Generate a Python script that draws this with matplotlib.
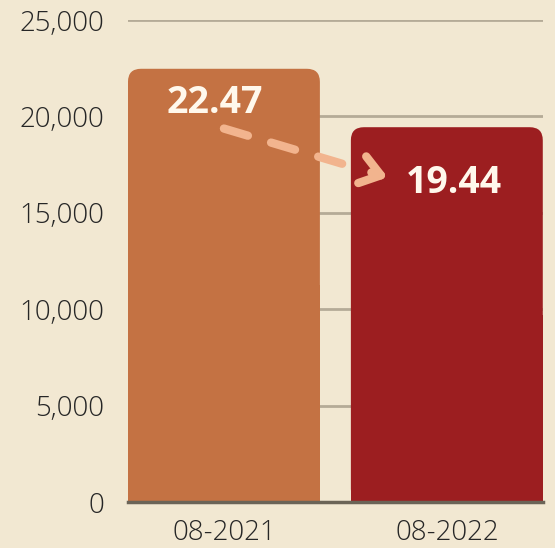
import numpy as np
import matplotlib.pyplot as plt
from matplotlib.patches import FancyBboxPatch, Rectangle

# Data
periods = ['08-2021', '08-2022']
values = [22470, 19440]
value_labels = ['22.47', '19.44']
bar_colors = ['#c47243', '#9c1e20']
yticks = [0, 5000, 10000, 15000, 20000, 25000]

bg = '#f2e8d2'
plt.rcParams['font.family'] = ['Open Sans', 'DejaVu Sans']

fig = plt.figure(figsize=(5.55, 5.48), dpi=100, facecolor=bg)
ax = fig.add_axes([0.2306, 0.0839, 0.7474, 0.8796], facecolor=bg)

x = np.arange(len(values))
width = 0.861
ax.set_xlim(-width / 2, len(values) - 1 + width / 2)
ax.set_ylim(0, 25000)

# pixel -> data conversion for rounded corners
ax_w_px = 0.7474 * 555
ax_h_px = 0.8796 * 548
x_per_px = (ax.get_xlim()[1] - ax.get_xlim()[0]) / ax_w_px
y_per_px = 25000 / ax_h_px
r = 13 * x_per_px

for xi, v, c in zip(x, values, bar_colors):
    left = xi - width / 2
    ax.add_patch(FancyBboxPatch((left, 0), width, v,
                                boxstyle=f'round,pad=0,rounding_size={r}',
                                mutation_aspect=y_per_px / x_per_px,
                                fc=c, ec='none', zorder=2))
    ax.add_patch(Rectangle((left, 0), width, v * 0.5, fc=c, ec='none', zorder=2))

# grid
for t in yticks[1:]:
    ax.axhline(t, color='#b5ab97', lw=2, zorder=1)

ax.set_yticks(yticks)
ax.set_yticklabels([f'{t:,}' for t in yticks], fontweight='light')
ax.set_xticks(x)
ax.set_xticklabels(periods, fontweight='light')
ax.tick_params(axis='y', length=0, pad=17, labelsize=20, colors='#262626')
ax.tick_params(axis='x', length=0, pad=12, labelsize=20, colors='#262626')

for s in ['top', 'right', 'left']:
    ax.spines[s].set_visible(False)
ax.spines['bottom'].set_color('#6b6457')
ax.spines['bottom'].set_linewidth(2.5)
ax.spines['bottom'].set_zorder(3)

# value labels
label_color = '#fff8ec'
ax.text(x[0] - 0.04, values[0] - 1750, value_labels[0], ha='center', va='center',
        fontsize=27, fontweight='bold', color=label_color, zorder=4)
ax.text(x[1] + 0.03, values[1] - 2900, value_labels[1], ha='center', va='center',
        fontsize=27, fontweight='bold', color=label_color, zorder=4)

# dashed arrow between labels
arrow_color = '#f2b48e'
start = np.array([x[0] + 0.0, values[0] - 3100])
tip = np.array([x[1] - 0.265, values[1] - 2600])
ax.annotate('', xy=tip, xytext=start, zorder=5,
            arrowprops=dict(arrowstyle='-', color=arrow_color, lw=6,
                            linestyle=(0, (3.0, 2.9)), capstyle='round',
                            shrinkA=0, shrinkB=25))
pre = tip + (start - tip) * 0.1
ax.annotate('', xy=tip, xytext=pre, zorder=5,
            arrowprops=dict(arrowstyle='->,head_length=0.7,head_width=0.5',
                            mutation_scale=20, color=arrow_color, lw=6,
                            capstyle='round', joinstyle='round',
                            shrinkA=0, shrinkB=0, alpha=1))
# hide the short shaft under the head by drawing it only near the tip
fig.savefig('out.png', dpi=100, facecolor=bg)
